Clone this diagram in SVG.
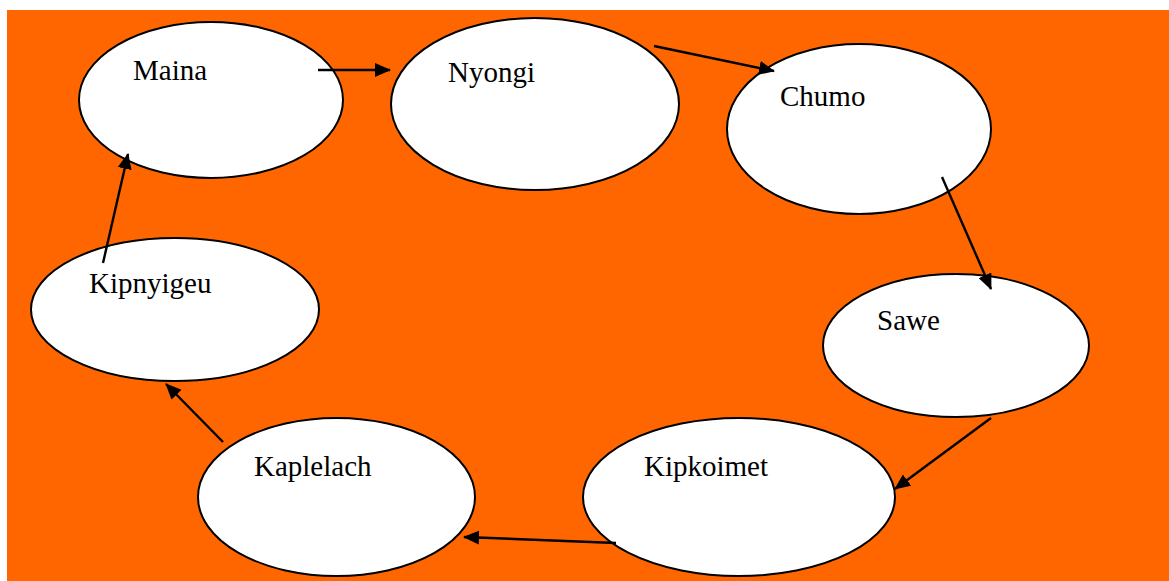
<svg xmlns="http://www.w3.org/2000/svg" width="1169" height="581" viewBox="0 0 1169 581">
  <style>
    .node ellipse { fill: #ffffff; stroke: #000000; stroke-width: 2; }
    .node text { font-family: "Liberation Serif", "Times New Roman", serif; font-size: 29px; fill: #000000; }
    .edge { stroke: #000000; stroke-width: 2.4; fill: none; marker-end: url(#arrow); }
  </style>
  <defs>
    <marker id="arrow" markerUnits="userSpaceOnUse" markerWidth="16" markerHeight="14" refX="15" refY="7" orient="auto">
      <path d="M0,0 L16,7 L0,14 z" fill="#000000"/>
    </marker>
  </defs>

  <!-- background panel -->
  <rect x="7" y="10" width="1162" height="571" fill="#ff6600"/>

  <g id="maina" class="node">
    <ellipse cx="211" cy="100" rx="132" ry="78"/>
    <text x="133" y="80">Maina</text>
  </g>
  <g id="nyongi" class="node">
    <ellipse cx="535" cy="104" rx="144" ry="86"/>
    <text x="448" y="82">Nyongi</text>
  </g>
  <g id="chumo" class="node">
    <ellipse cx="859" cy="129" rx="132" ry="85"/>
    <text x="780" y="106">Chumo</text>
  </g>
  <g id="sawe" class="node">
    <ellipse cx="956" cy="345.5" rx="133" ry="71.5"/>
    <text x="877" y="330">Sawe</text>
  </g>
  <g id="kipkoimet" class="node">
    <ellipse cx="739" cy="497" rx="156" ry="79"/>
    <text x="644" y="476">Kipkoimet</text>
  </g>
  <g id="kaplelach" class="node">
    <ellipse cx="336.5" cy="497" rx="138.5" ry="79"/>
    <text x="254" y="476">Kaplelach</text>
  </g>
  <g id="kipnyigeu" class="node">
    <ellipse cx="175" cy="309.5" rx="144" ry="71.5"/>
    <text x="89" y="293">Kipnyigeu</text>
  </g>

  <g id="connectors">
    <line class="edge" x1="318" y1="70" x2="390" y2="70"/>
    <line class="edge" x1="654" y1="46" x2="774" y2="71"/>
    <line class="edge" x1="942" y1="177" x2="991" y2="289"/>
    <line class="edge" x1="991" y1="418" x2="895" y2="489"/>
    <line class="edge" x1="616" y1="543" x2="464" y2="537"/>
    <line class="edge" x1="223" y1="442" x2="166" y2="384"/>
    <line class="edge" x1="103" y1="263" x2="128" y2="154"/>
  </g>
</svg>
